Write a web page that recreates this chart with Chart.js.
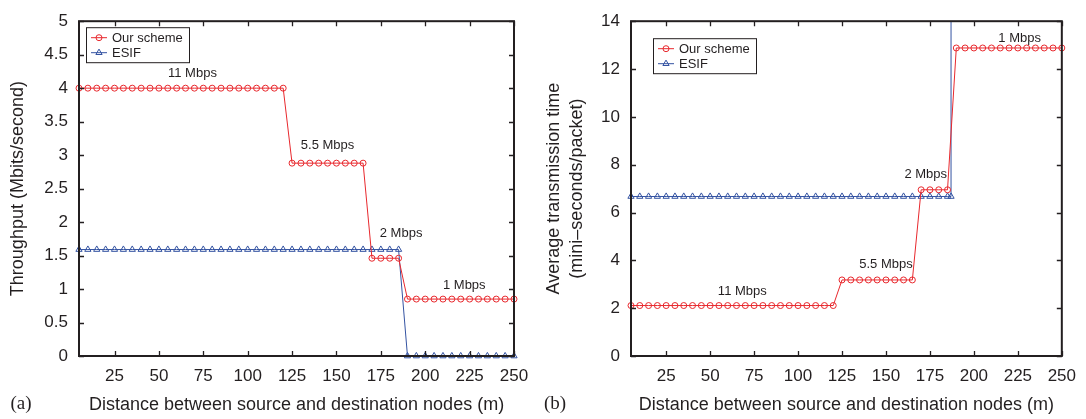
<!DOCTYPE html>
<html><head><meta charset="utf-8">
<script src="https://cdn.jsdelivr.net/npm/chart.js@4/dist/chart.umd.min.js"></script>
<style>
html,body{margin:0;padding:0;background:#fff;}
#wrap{position:relative;width:1086px;height:419px;overflow:hidden;}
.p{position:absolute;top:0;width:543px;height:419px;}
canvas{display:block;}
</style></head><body>
<div id="wrap">
<div class="p" style="left:0"><canvas id="ca" width="543" height="419"></canvas></div>
<div class="p" style="left:543px"><canvas id="cb" width="543" height="419"></canvas></div>
</div>
<script>
// ---------- data ----------
const distances = [5,10,15,20,25,30,35,40,45,50,55,60,65,70,75,80,85,90,95,100,105,110,115,120,125,130,135,140,145,150,155,160,165,170,175,180,185,190,195,200,205,210,215,220,225,230,235,240,245,250];
const oursThroughput = [4.0,4.0,4.0,4.0,4.0,4.0,4.0,4.0,4.0,4.0,4.0,4.0,4.0,4.0,4.0,4.0,4.0,4.0,4.0,4.0,4.0,4.0,4.0,4.0,
  2.88,2.88,2.88,2.88,2.88,2.88,2.88,2.88,2.88,
  1.46,1.46,1.46,1.46,
  0.85,0.85,0.85,0.85,0.85,0.85,0.85,0.85,0.85,0.85,0.85,0.85,0.85];
const esifThroughput = [1.59,1.59,1.59,1.59,1.59,1.59,1.59,1.59,1.59,1.59,1.59,1.59,1.59,1.59,1.59,1.59,1.59,1.59,1.59,1.59,1.59,1.59,1.59,1.59,1.59,1.59,1.59,1.59,1.59,1.59,1.59,1.59,1.59,1.59,1.59,1.59,1.59,
  0,0,0,0,0,0,0,0,0,0,0,0,0];
const oursTime = [2.11,2.11,2.11,2.11,2.11,2.11,2.11,2.11,2.11,2.11,2.11,2.11,2.11,2.11,2.11,2.11,2.11,2.11,2.11,2.11,2.11,2.11,2.11,2.11,
  3.18,3.18,3.18,3.18,3.18,3.18,3.18,3.18,3.18,
  6.95,6.95,6.95,6.95,
  12.88,12.88,12.88,12.88,12.88,12.88,12.88,12.88,12.88,12.88,12.88,12.88,12.88];
const esifTimeDistances = [5,10,15,20,25,30,35,40,45,50,55,60,65,70,75,80,85,90,95,100,105,110,115,120,125,130,135,140,145,150,155,160,165,170,175,180,185,187,187];
const esifTime = [6.67,6.67,6.67,6.67,6.67,6.67,6.67,6.67,6.67,6.67,6.67,6.67,6.67,6.67,6.67,6.67,6.67,6.67,6.67,6.67,6.67,6.67,6.67,6.67,6.67,6.67,6.67,6.67,6.67,6.67,6.67,6.67,6.67,6.67,6.67,6.67,6.67,6.67,100];

const xTicks = [25,50,75,100,125,150,175,200,225,250];
const yTicksA = [0,0.5,1,1.5,2,2.5,3,3.5,4,4.5,5];
const yTicksB = [0,2,4,6,8,10,12,14];

const seriesNames = ['Our scheme','ESIF'];
const rateLabels = ['11 Mbps','5.5 Mbps','2 Mbps','1 Mbps'];
const rateLabelXA = [68.9,145,186.4,222];
const rateLabelYA = [4.22,3.14,1.83,1.05];
const rateLabelXB = [68.3,150,172.6,226];
const rateLabelYB = [2.69,3.81,7.6,13.3];

// ---------- styles ----------
const RED = '#e8282d';
const BLUE = '#3453a2';
const INK = '#231f20';
const FONT = "'Liberation Sans', Arial, Helvetica, sans-serif";
Chart.defaults.font.family = FONT;
Chart.defaults.color = INK;

function pairs(xs, ys){ return xs.map((x,i)=>({x:x, y:ys[i]})); }

function ds(label, data, color, style, radius){
  return {label, data, borderColor: color, backgroundColor: 'rgba(0,0,0,0)',
    borderWidth: 1, pointStyle: style, pointRadius: radius, pointBorderWidth: 1,
    pointBorderColor: color, pointBackgroundColor: 'rgba(0,0,0,0)', tension: 0,
    clip: {left: 6, right: 6, top: 0, bottom: 6}};
}

const framePlugin = {
  id: 'frame',
  afterDraw(chart, args, opts){
    const ctx = chart.ctx, a = chart.chartArea;
    ctx.save();
    ctx.strokeStyle = INK;
    ctx.lineWidth = 1.3;
    const tl = 5;
    chart.scales.x.ticks.forEach(t=>{
      const px = Math.round(chart.scales.x.getPixelForValue(t.value)) + 0.5;
      ctx.beginPath();
      ctx.moveTo(px, a.bottom); ctx.lineTo(px, a.bottom - tl);
      ctx.moveTo(px, a.top); ctx.lineTo(px, a.top + tl);
      ctx.stroke();
    });
    chart.scales.y.ticks.forEach(t=>{
      const py = Math.round(chart.scales.y.getPixelForValue(t.value)) + 0.5;
      ctx.beginPath();
      ctx.moveTo(a.left, py); ctx.lineTo(a.left + tl, py);
      ctx.moveTo(a.right, py); ctx.lineTo(a.right - tl, py);
      ctx.stroke();
    });
    ctx.lineWidth = 2;
    ctx.strokeRect(a.left, a.top, a.right - a.left, a.bottom - a.top);
    // rate annotations
    ctx.fillStyle = INK;
    ctx.font = "13px " + FONT;
    ctx.textAlign = 'center';
    ctx.textBaseline = 'middle';
    opts.labels.forEach((txt,i)=>{
      ctx.fillText(txt, chart.scales.x.getPixelForValue(opts.lx[i]), chart.scales.y.getPixelForValue(opts.ly[i]));
    });
    // legend
    const bx = a.left + opts.legend.dx, by = a.top + opts.legend.dy, bw = 103, bh = 35;
    ctx.fillStyle = '#fff';
    ctx.fillRect(bx, by, bw, bh);
    ctx.lineWidth = 1;
    ctx.strokeStyle = INK;
    ctx.strokeRect(bx + 0.5, by + 0.5, bw, bh);
    chart.data.datasets.forEach((d,i)=>{
      const y = by + 10.5 + i * 15;
      ctx.strokeStyle = d.borderColor;
      ctx.lineWidth = 1;
      ctx.beginPath(); ctx.moveTo(bx + 5, y); ctx.lineTo(bx + 21, y); ctx.stroke();
      ctx.fillStyle = 'rgba(0,0,0,0)';
      Chart.helpers.drawPoint(ctx, {pointStyle: d.pointStyle, radius: d.pointRadius, rotation: 0, borderWidth: 1}, bx + 13, y);
      ctx.fillStyle = INK;
      ctx.font = "13px " + FONT;
      ctx.textAlign = 'left';
      ctx.textBaseline = 'middle';
      ctx.fillText(d.label, bx + 26, y + 0.5);
    });
    // panel tag
    ctx.font = "19px 'Liberation Serif', 'Times New Roman', serif";
    ctx.fillStyle = INK;
    ctx.textAlign = 'center';
    ctx.textBaseline = 'middle';
    ctx.fillText(opts.tag, opts.tagX, 404);
    ctx.restore();
  }
};

function makeChart(id, datasets, yMax, yTicks, yTitle, yWidth, yTitlePad, rightPad, frameOpts){
  return new Chart(document.getElementById(id), {
    type: 'line',
    data: {datasets},
    options: {
      responsive: false, animation: false, events: [],
      layout: {padding: {top: 14, right: rightPad, bottom: 0, left: 0}},
      plugins: {legend: {display: false}, tooltip: {enabled: false}, frame: frameOpts},
      scales: {
        x: {type: 'linear', min: 5, max: 250,
          afterBuildTicks: s => { s.ticks = xTicks.map(v=>({value: v})); },
          afterFit: s => { s.height = 63; },
          grid: {display: false, drawTicks: false}, border: {display: false},
          ticks: {font: {size: 17}, color: INK, padding: 10, autoSkip: false, maxRotation: 0, minRotation: 0},
          title: {display: true, text: 'Distance between source and destination nodes (m)',
            font: {size: 18}, color: INK, padding: {top: 0, bottom: 3}}},
        y: {type: 'linear', min: 0, max: yMax,
          afterBuildTicks: s => { s.ticks = yTicks.map(v=>({value: v})); },
          afterFit: s => { s.width = yWidth; },
          grid: {display: false, drawTicks: false}, border: {display: false},
          ticks: {font: {size: 17}, color: INK, padding: 11, callback: v => String(v)},
          title: {display: true, text: yTitle, font: {size: 18, lineHeight: 1.25}, color: INK,
            padding: {top: yTitlePad, bottom: 0}}}
      }
    },
    plugins: [framePlugin]
  });
}

makeChart('ca', [
    ds(seriesNames[0], pairs(distances, oursThroughput), RED, 'circle', 3),
    ds(seriesNames[1], pairs(distances, esifThroughput), BLUE, 'triangle', 3.6)
  ], 5, yTicksA, 'Throughput (Mbits/second)', 79, 7, 29,
  {labels: rateLabels, lx: rateLabelXA, ly: rateLabelYA, legend: {dx: 7, dy: 6}, tag: '(a)', tagX: 21});

makeChart('cb', [
    ds(seriesNames[0], pairs(distances, oursTime), RED, 'circle', 3),
    ds(seriesNames[1], pairs(esifTimeDistances, esifTime), BLUE, 'triangle', 3.6)
  ], 14, yTicksB, ['Average transmission time', '(mini\u2013seconds/packet)'], 88, 0, 20,
  {labels: rateLabels, lx: rateLabelXB, ly: rateLabelYB, legend: {dx: 22, dy: 17}, tag: '(b)', tagX: 12});
</script>
</body></html>
